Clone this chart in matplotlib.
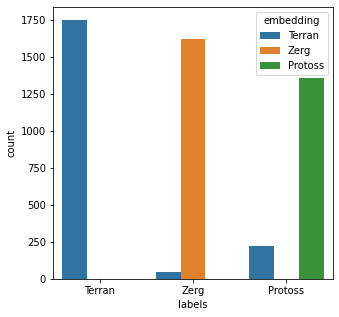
import matplotlib
matplotlib.use("Agg")
import matplotlib.pyplot as plt
import pandas as pd
import seaborn as sns

labels = ["Terran", "Zerg", "Protoss"]
embedding = ["Terran", "Zerg", "Protoss"]
# counts[label][embedding]
terran_counts = [1750, 0, 0]
zerg_counts = [47, 1622, 0]
protoss_counts = [223, 0, 1359]

rows = []
for lab, counts in zip(labels, [terran_counts, zerg_counts, protoss_counts]):
    for emb, c in zip(embedding, counts):
        rows.append({"labels": lab, "embedding": emb, "count": c})
df = pd.DataFrame(rows)

fig = plt.figure(figsize=(339 / 72, 317 / 72), dpi=72)
ax = fig.add_axes([53 / 339, 38 / 317, 280 / 339, 272 / 317])

sns.barplot(data=df, x="labels", y="count", hue="embedding",
            order=labels, hue_order=embedding, errorbar=None,
            palette="tab10", saturation=0.75, ax=ax)

ax.set_xlabel("labels")
ax.set_ylabel("count")
ax.set_ylim(0, 1837)
ax.set_yticks([0, 250, 500, 750, 1000, 1250, 1500, 1750])
ax.legend(title="embedding", loc="upper right")

fig.savefig("out.png", dpi=72)
